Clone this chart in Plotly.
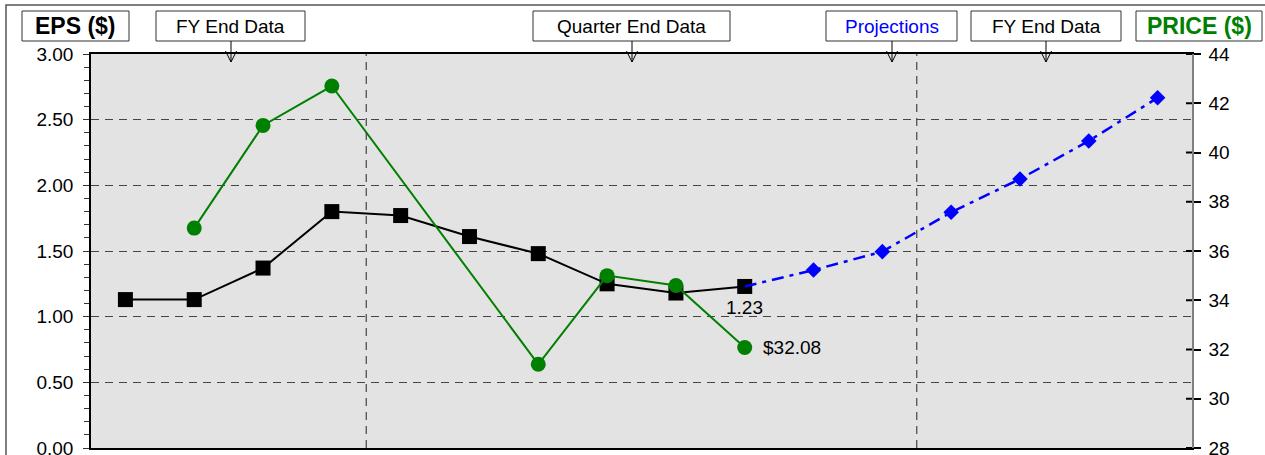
import plotly.graph_objects as go

# ---- data ----
periods = list(range(16))
eps = [1.13, 1.13, 1.37, 1.80, 1.77, 1.61, 1.48, 1.25, 1.18, 1.23,
       None, None, None, None, None, None]
price = [None, 36.93, 41.1, 42.7, None, None, 31.4, 35.0, 34.6, 32.08,
         None, None, None, None, None, None]
proj_periods = [9, 10, 11, 12, 13, 14, 15]
proj_eps = [1.23, 1.355, 1.495, 1.795, 2.048, 2.338, 2.667]
section_breaks = [3.5, 11.5]
eps_ticks = [0.0, 0.5, 1.0, 1.5, 2.0, 2.5, 3.0]
price_ticks = [28, 30, 32, 34, 36, 38, 40, 42, 44]

FONT = "Liberation Sans, Arial, sans-serif"
FS = 19
W, H = 1265, 455
L, R, T, B = 91, 1192, 54, 448


def px(x):
    return (x - L) / (R - L)


def py(y):
    return (B - y) / (B - T)


fig = go.Figure()

fig.add_trace(go.Scatter(
    x=periods, y=eps, mode="lines+markers", yaxis="y",
    line=dict(color="black", width=2),
    marker=dict(symbol="square", size=15, color="black"),
    showlegend=False, hoverinfo="skip"))

fig.add_trace(go.Scatter(
    x=proj_periods, y=proj_eps, mode="lines", yaxis="y",
    line=dict(color="#0000ff", width=2.5, dash="12px,6px,4px,6px"),
    showlegend=False, hoverinfo="skip"))
fig.add_trace(go.Scatter(
    x=proj_periods[1:], y=proj_eps[1:], mode="markers", yaxis="y",
    marker=dict(symbol="diamond", size=12, color="#0000ff"),
    showlegend=False, hoverinfo="skip"))

fig.add_trace(go.Scatter(
    x=periods, y=price, mode="lines+markers", yaxis="y2",
    connectgaps=True,
    line=dict(color="#008000", width=2),
    marker=dict(symbol="circle", size=15, color="#008000"),
    showlegend=False, hoverinfo="skip"))

shapes = []
# outer frame
shapes.append(dict(type="rect", xref="paper", yref="paper",
                   x0=px(6), x1=px(1275), y0=py(465), y1=py(5),
                   line=dict(color="#555555", width=1.5), layer="below"))
# section breaks
for xb in section_breaks:
    shapes.append(dict(type="line", xref="x", yref="y", x0=xb, x1=xb,
                       y0=0, y1=3, line=dict(color="#444444", width=1.2, dash="8px,6px")))

# right-axis inner tick halves
for t in price_ticks:
    shapes.append(dict(type="line", xref="paper", yref="y2",
                       x0=px(1186), x1=1.0, y0=t, y1=t,
                       line=dict(color="black", width=2)))

annotations = []
boxes = [
    ("EPS ($)", 22, 129, None, "black", True, 23),
    ("FY End Data", 156, 305, 231, "black", False, FS),
    ("Quarter End Data", 533, 730, 632, "black", False, FS),
    ("Projections", 826, 957, 892, "#0000ff", False, FS),
    ("FY End Data", 971, 1121, 1046, "black", False, FS),
    ("PRICE ($)", 1136, 1262, None, "#008000", True, 23),
]
for text, x0, x1, ax, col, bold, size in boxes:
    shapes.append(dict(type="rect", xref="paper", yref="paper",
                       x0=px(x0), x1=px(x1), y0=py(41), y1=py(11),
                       line=dict(color="#333333", width=1), fillcolor="white"))
    annotations.append(dict(
        xref="paper", yref="paper", x=px((x0 + x1) / 2), y=py(26),
        text=f"<b>{text}</b>" if bold else text, showarrow=False,
        xanchor="center", yanchor="middle",
        font=dict(family=FONT, size=size, color=col)))
    if ax is not None:
        shapes.append(dict(type="line", xref="paper", yref="paper",
                           x0=px(ax), x1=px(ax), y0=py(41), y1=py(62),
                           line=dict(color="black", width=1)))
        shapes.append(dict(type="path", xref="paper", yref="paper",
                           path=f"M {px(ax - 5.5)},{py(51)} L {px(ax)},{py(62)} L {px(ax + 5.5)},{py(51)}",
                           line=dict(color="black", width=1)))

# value labels
annotations.append(dict(x=9, y=eps[9], xref="x", yref="y",
                        text=f"{eps[9]:.2f}", showarrow=False,
                        xanchor="center", yanchor="middle", yshift=-21,
                        font=dict(family=FONT, size=FS, color="black")))
annotations.append(dict(x=9, y=price[9], xref="x", yref="y2",
                        text=f"${price[9]:.2f}", showarrow=False,
                        xanchor="left", yanchor="middle", xshift=16,
                        font=dict(family=FONT, size=FS, color="black")))

fig.update_layout(
    width=W, height=H,
    margin=dict(l=L, r=W - R, t=T, b=H - B, autoexpand=False),
    paper_bgcolor="white", plot_bgcolor="#e3e3e3",
    font=dict(family=FONT, size=FS, color="black"),
    xaxis=dict(range=[-0.5, 15.5], showticklabels=False, ticks="",
               showgrid=False, zeroline=False, automargin=False,
               showline=True, linecolor="black", linewidth=1.5, mirror=True),
    yaxis=dict(range=[0, 3], tickvals=eps_ticks, tickformat=".2f",
               ticks="outside", ticklen=6, tickcolor="#333333", tickwidth=1,
               minor=dict(dtick=0.1, ticks="outside", ticklen=5, tickcolor="#333333", showgrid=False),
               showgrid=True, gridcolor="#444444", gridwidth=1, griddash="8px,6px",
               zeroline=False, showline=True, linecolor="black", linewidth=1.5,
               ticklabelstandoff=6, ticklabeloverflow="allow", automargin=False,
               tickfont=dict(family=FONT, size=FS, color="black")),
    yaxis2=dict(range=[28, 44], tickvals=price_ticks, overlaying="y", side="right",
                ticks="outside", ticklen=7, tickwidth=2, tickcolor="black",
                showgrid=False, zeroline=False, automargin=False,
                showline=True, linecolor="#808080", linewidth=1.5,
                ticklabelstandoff=4, ticklabeloverflow="allow",
                tickfont=dict(family=FONT, size=FS, color="black")),
    shapes=shapes, annotations=annotations,
)

fig.write_html("out.html", config={"displayModeBar": False},
               post_script="document.body.style.margin='0';document.body.style.overflow='hidden';")
